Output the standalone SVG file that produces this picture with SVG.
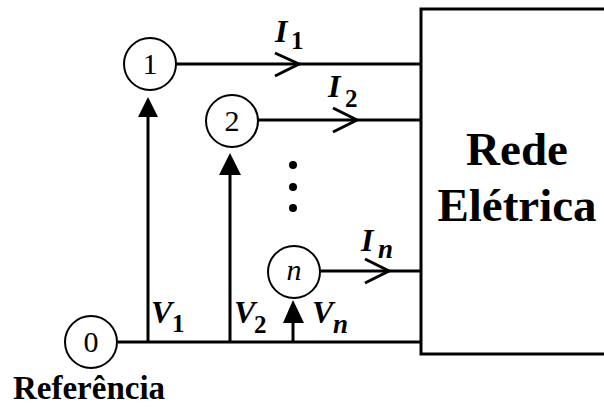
<svg xmlns="http://www.w3.org/2000/svg" width="604" height="407" viewBox="0 0 604 407" font-family="Liberation Serif, DejaVu Serif, serif">
<style>
.ln{stroke:#000;stroke-width:3;fill:none}
.nd{stroke:#000;stroke-width:2;fill:#fff}
.nl{font-size:30px;text-anchor:middle}
.lb{font-weight:bold;font-style:italic;font-size:32px}
.sb{font-weight:bold;font-size:25px}
.sbi{font-weight:bold;font-style:italic;font-size:27px}
.bt{font-weight:bold}
.ah{fill:#000}
.oa{stroke:#000;stroke-width:3;fill:none;stroke-linejoin:miter}
</style>
<g id="rede">
<rect class="ln" x="421" y="9" width="200" height="345"/>
<text class="bt" x="517" y="165" font-size="47" text-anchor="middle">Rede</text>
<text class="bt" x="517" y="221" font-size="47" text-anchor="middle">Elétrica</text>
</g>
<g id="connectors">
<line class="ln" x1="118" y1="342" x2="421" y2="342"/>
<line class="ln" x1="176" y1="64" x2="421" y2="64"/>
<line class="ln" x1="258" y1="120" x2="421" y2="120"/>
<line class="ln" x1="320" y1="271" x2="421" y2="271"/>
<polyline class="oa" points="275,53 299,64 275,76"/>
<polyline class="oa" points="333,108 357,120 333,132"/>
<polyline class="oa" points="365,259 389,271 365,283"/>
<line class="ln" x1="148" y1="342" x2="148" y2="112"/>
<polygon class="ah" points="148,97 138,117 158,117"/>
<line class="ln" x1="230" y1="342" x2="230" y2="170"/>
<polygon class="ah" points="230,153 219,175 241,175"/>
<line class="ln" x1="293" y1="342" x2="293" y2="318"/>
<polygon class="ah" points="293,300 283,323 304,323"/>
<circle cx="293" cy="165" r="4"/>
<circle cx="293" cy="187" r="4"/>
<circle cx="293" cy="208" r="4"/>
</g>
<g id="labels">
<text class="lb" x="275" y="42">I</text><text class="sb" x="291" y="49">1</text>
<text class="lb" x="328" y="97">I</text><text class="sb" x="345" y="107">2</text>
<text class="lb" x="361" y="251">I</text><text class="sbi" x="378" y="258">n</text>
<text class="lb" x="151" y="323">V</text><text class="sb" x="172" y="332">1</text>
<text class="lb" x="234" y="323">V</text><text class="sb" x="254" y="333">2</text>
<text class="lb" x="312" y="323">V</text><text class="sbi" x="333" y="333">n</text>
</g>
<g id="node0">
<circle class="nd" cx="91" cy="342" r="26"/>
<text class="nl" x="91" y="352">0</text>
<text class="bt" x="13" y="399" font-size="33">Referência</text>
</g>
<g id="node1">
<circle class="nd" cx="150" cy="64" r="26"/>
<text class="nl" x="150" y="74">1</text>
</g>
<g id="node2">
<circle class="nd" cx="232" cy="121" r="26"/>
<text class="nl" x="232" y="131">2</text>
</g>
<g id="noden">
<circle class="nd" cx="294" cy="272" r="26"/>
<text class="nl" x="294" y="280" font-style="italic">n</text>
</g>
</svg>
